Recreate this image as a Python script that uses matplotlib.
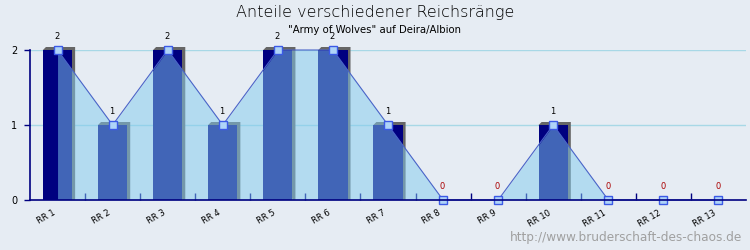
import numpy as np
import matplotlib
matplotlib.use("Agg")
import matplotlib.pyplot as plt
import matplotlib.transforms as mtransforms
from matplotlib.patches import Polygon, Rectangle

# --- data ---
labels = ["RR 1", "RR 2", "RR 3", "RR 4", "RR 5", "RR 6", "RR 7",
          "RR 8", "RR 9", "RR 10", "RR 11", "RR 12", "RR 13"]
counts = [2, 1, 2, 1, 2, 2, 1, 0, 0, 1, 0, 0, 0]

title = "Anteile verschiedener Reichsränge"
subtitle = "\"Army of Wolves\" auf Deira/Albion"
watermark = "http://www.bruderschaft-des-chaos.de"

bg = "#E6ECF3"
navy = "#000080"

fig = plt.figure(figsize=(7.5, 2.5), dpi=100, facecolor=bg)
ax = fig.add_axes([30 / 750, 50 / 250, 716 / 750, 150 / 250], facecolor=bg)

x = np.arange(len(labels))
ax.set_xlim(-0.5, len(labels) - 0.5)
ax.set_ylim(0, 2)

# pixel -> data scale for 3d shadow offset
dx = 3 / 55.1
dy = 3 / 75.0
w = 0.53

# grid
for yv in [1, 2]:
    ax.axhline(yv, color="#A8D8E6", lw=1, zorder=1)

# bars with shadow
for xi, v in zip(x, counts):
    if v <= 0:
        continue
    x0, x1 = xi - w / 2, xi + w / 2
    shadow = Polygon([(x0, v), (x0 + dx, v + dy), (x1 + dx, v + dy),
                      (x1 + dx, 0), (x1, 0)], closed=True,
                     facecolor="#666666", edgecolor="none", zorder=2, clip_on=False)
    ax.add_patch(shadow)
    ax.add_patch(Rectangle((x0, 0), w, v, facecolor=navy, edgecolor="none", zorder=3))

# area + line
ax.fill_between(x, counts, 0, color="#82CBEE", alpha=0.5, lw=0, zorder=4)
ax.plot(x, counts, color="#4A64C8", lw=0.8, zorder=5, clip_on=False)
ax.plot(x, counts, ls="none", marker="s", ms=6, mfc="#AFD4F8", mec="#3C5AE6",
        mew=1, zorder=6, clip_on=False)

# value labels
for xi, v in zip(x, counts):
    ax.text(xi - 0.01, v + 0.12, str(v), ha="center", va="bottom", fontsize=6,
            color="#000000" if v > 0 else "#AA0000", zorder=7)

# axes styling
for s in ["top", "right"]:
    ax.spines[s].set_visible(False)
for s in ["left", "bottom"]:
    ax.spines[s].set_color(navy)
    ax.spines[s].set_linewidth(1.2)
ax.spines["bottom"].set_zorder(8)

ax.set_yticks([0, 1, 2])
ax.set_yticklabels(["0", "1", "2"], fontsize=7)
ax.tick_params(axis="y", length=4, width=1, color=navy, pad=5)

ax.set_xticks(x)
ax.set_xticklabels(labels, fontsize=6, rotation=30, ha="right", rotation_mode="anchor")
ax.set_xticks(x[:-1] + 0.5, minor=True)
ax.tick_params(axis="x", which="major", length=0, pad=6)
ax.tick_params(axis="x", which="minor", direction="in", length=5, width=1, color=navy)
shift = mtransforms.ScaledTranslation(-5 / 100, 0, fig.dpi_scale_trans)
for lab in ax.get_xticklabels():
    lab.set_transform(lab.get_transform() + shift)

# titles
fig.text(0.5, 1 - 12 / 250, title, ha="center", va="center", fontsize=11.5,
         color="#000000", fontweight="light")
fig.text(0.5, 1 - 30 / 250, subtitle, ha="center", va="center", fontsize=7.3, color="#000000")
fig.text(742 / 750, 1 - 238 / 250, watermark, ha="right", va="center", fontsize=8.7,
         color="#A0A0A0")

fig.savefig("out.png", dpi=100, facecolor=bg)
